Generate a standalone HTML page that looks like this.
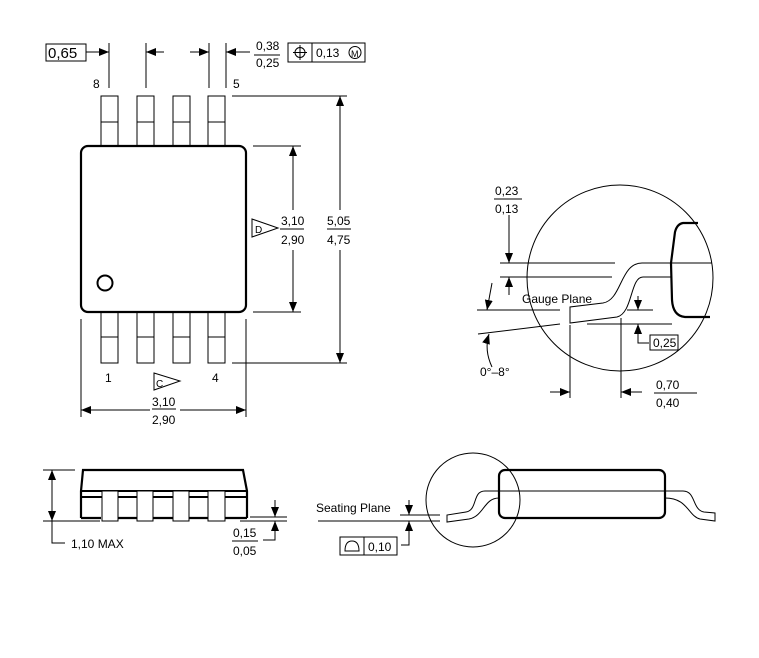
<!DOCTYPE html>
<html><head><style>body{margin:0;background:#fff}svg{display:block}text{font-family:"Liberation Sans",sans-serif;font-size:12px;fill:#000}</style></head>
<body>
<svg width="759" height="658" viewBox="0 0 759 658" xmlns="http://www.w3.org/2000/svg">
<defs>
<marker id="a" markerWidth="10" markerHeight="8" refX="10" refY="4" orient="auto" markerUnits="userSpaceOnUse"><path d="M0,0 L10,4 L0,8 Z" fill="#000"/></marker>
</defs>
<g fill="none" stroke="#000" stroke-width="1">
<rect x="81" y="146" width="165" height="166" rx="7" stroke-width="2.2"/>
<circle cx="105" cy="283" r="7.5" stroke-width="2"/>
<rect x="101" y="96" width="17" height="50"/><line x1="101" y1="122" x2="118" y2="122"/>
<rect x="137" y="96" width="17" height="50"/><line x1="137" y1="122" x2="154" y2="122"/>
<rect x="173" y="96" width="17" height="50"/><line x1="173" y1="122" x2="190" y2="122"/>
<rect x="208" y="96" width="17" height="50"/><line x1="208" y1="122" x2="225" y2="122"/>
<rect x="101" y="312" width="17" height="51"/><line x1="101" y1="337" x2="118" y2="337"/>
<rect x="137" y="312" width="17" height="51"/><line x1="137" y1="337" x2="154" y2="337"/>
<rect x="173" y="312" width="17" height="51"/><line x1="173" y1="337" x2="190" y2="337"/>
<rect x="208" y="312" width="17" height="51"/><line x1="208" y1="337" x2="225" y2="337"/>
<line x1="109" y1="43" x2="109" y2="88"/><line x1="146" y1="43" x2="146" y2="88"/>
<line x1="209" y1="43" x2="209" y2="88"/><line x1="226" y1="43" x2="226" y2="88"/>
<line x1="86" y1="52" x2="109" y2="52" marker-end="url(#a)"/>
<line x1="164" y1="52" x2="146" y2="52" marker-end="url(#a)"/>
<line x1="190" y1="52" x2="209" y2="52" marker-end="url(#a)"/>
<line x1="250" y1="52" x2="226" y2="52" marker-end="url(#a)"/>
<rect x="46" y="44" width="40" height="17"/>
<line x1="254" y1="55" x2="280" y2="55"/>
<rect x="288" y="43" width="77" height="19"/><line x1="312" y1="43" x2="312" y2="62"/>
<circle cx="300" cy="52.5" r="5"/><line x1="300" y1="45" x2="300" y2="60"/><line x1="293" y1="52.5" x2="307" y2="52.5"/>
<circle cx="355" cy="52.5" r="6"/>
<line x1="232" y1="96" x2="347" y2="96"/><line x1="232" y1="363" x2="347" y2="363"/>
<line x1="253" y1="146" x2="301" y2="146"/><line x1="253" y1="312" x2="301" y2="312"/>
<line x1="340" y1="210" x2="340" y2="96" marker-end="url(#a)"/>
<line x1="340" y1="250" x2="340" y2="363" marker-end="url(#a)"/>
<line x1="293" y1="210" x2="293" y2="146" marker-end="url(#a)"/>
<line x1="293" y1="250" x2="293" y2="312" marker-end="url(#a)"/>
<line x1="280" y1="229" x2="304" y2="229"/><line x1="327" y1="229" x2="351" y2="229"/>
<path d="M252,219 L278,228 L252,237 Z"/>
<line x1="81" y1="319" x2="81" y2="417"/><line x1="246" y1="319" x2="246" y2="417"/>
<line x1="150" y1="410" x2="81" y2="410" marker-end="url(#a)"/>
<line x1="180" y1="410" x2="246" y2="410" marker-end="url(#a)"/>
<line x1="152" y1="409" x2="176" y2="409"/>
<path d="M154,373 L180,381 L154,390 Z"/>
<circle cx="620" cy="278" r="93"/>
<line x1="500" y1="263" x2="615" y2="263"/><line x1="500" y1="277" x2="612" y2="277"/>
<line x1="642" y1="263" x2="712" y2="263"/><line x1="643" y1="277" x2="671" y2="277"/>
<path d="M642,263 C620,263 622,300 603,303 L570,307 L570,323 L617,317 C633,313 630,277 643,277"/>
<path d="M698,223 L683,223 Q677,224 675,232 L671,263 L672,300 Q673,316 685,317 L710,317" stroke-width="2.2"/>
<line x1="477" y1="310" x2="560" y2="310"/><line x1="627" y1="310" x2="653" y2="310"/>
<line x1="587" y1="324" x2="672" y2="324"/>
<line x1="478" y1="334" x2="560" y2="324"/>
<line x1="570" y1="325" x2="570" y2="398"/><line x1="621" y1="318" x2="621" y2="398"/>
<line x1="550" y1="392" x2="570" y2="392" marker-end="url(#a)"/>
<line x1="642" y1="392" x2="621" y2="392" marker-end="url(#a)"/>
<line x1="654" y1="393" x2="697" y2="393"/>
<line x1="509" y1="215" x2="509" y2="263" marker-end="url(#a)"/>
<line x1="509" y1="295" x2="509" y2="277" marker-end="url(#a)"/>
<line x1="494" y1="199" x2="522" y2="199"/>
<path d="M492,283 L487,310" marker-end="url(#a)"/>
<path d="M492,367 Q484,350 489,334" marker-end="url(#a)"/>
<line x1="638" y1="296" x2="638" y2="310" marker-end="url(#a)"/>
<path d="M649,343 L638,343 L638,324" marker-end="url(#a)"/>
<rect x="650" y="335" width="28" height="15"/>
<!-- side view left -->
<path d="M81,518 L81,491 L83,470 L243,470 L247,491 L247,518" stroke-width="2.2"/>
<path d="M81,518 L101,518 M118,518 L137,518 M153,518 L173,518 M189,518 L208,518 M225,518 L247,518" stroke-width="2.2"/>
<line x1="81" y1="491" x2="247" y2="491" stroke-width="2"/><line x1="81" y1="497" x2="247" y2="497" stroke-width="2"/>
<rect x="102" y="491" width="16" height="30" fill="#fff"/>
<rect x="137" y="491" width="16" height="30" fill="#fff"/>
<rect x="173" y="491" width="16" height="30" fill="#fff"/>
<rect x="208" y="491" width="17" height="30" fill="#fff"/>
<line x1="43" y1="470" x2="75" y2="470"/><line x1="43" y1="521" x2="100" y2="521"/>
<line x1="52" y1="495" x2="52" y2="470" marker-end="url(#a)"/>
<line x1="52" y1="495" x2="52" y2="521" marker-end="url(#a)"/>
<path d="M52,521 L52,543 L65,543"/>
<line x1="240" y1="521" x2="287" y2="521"/><line x1="250" y1="517" x2="287" y2="517"/>
<line x1="275" y1="500" x2="275" y2="517" marker-end="url(#a)"/>
<path d="M263,540 L275,540 L275,521" marker-end="url(#a)"/>
<line x1="232" y1="541" x2="258" y2="541"/>
<circle cx="473" cy="500" r="47"/>
<rect x="499" y="470" width="166" height="48" rx="6" stroke-width="2.2"/>
<line x1="485" y1="491" x2="683" y2="491"/>
<path d="M485,491 C472,491 478,510 466,512 L447,515 L447,522 L469,519 C484,516 484,498 499,498"/>
<path d="M683,491 C696,491 692,510 704,512 L715,513 L715,521 L700,519 C688,516 688,498 665,498"/>
<line x1="318" y1="521" x2="440" y2="521"/><line x1="400" y1="515" x2="440" y2="515"/>
<line x1="409" y1="500" x2="409" y2="515" marker-end="url(#a)"/>
<path d="M401,545 L409,545 L409,521" marker-end="url(#a)"/>
<rect x="340" y="537" width="57" height="18"/><line x1="364" y1="537" x2="364" y2="555"/>
<path d="M345,551 L359,551 Q359,541 352,541 Q345,541 345,551 Z"/>
</g>
<text x="48" y="58" style="font-size:15px">0,65</text>
<text x="256" y="50">0,38</text><text x="256" y="67">0,25</text>
<text x="316" y="57">0,13</text>
<text x="351" y="57" style="font-size:9px">M</text>
<text x="93" y="88">8</text><text x="233" y="88">5</text>
<text x="105" y="382">1</text><text x="212" y="382">4</text>
<text x="281" y="225">3,10</text><text x="281" y="244">2,90</text>
<text x="327" y="225">5,05</text><text x="327" y="244">4,75</text>
<text x="255" y="233" style="font-size:10px">D</text>
<text x="156" y="387" style="font-size:10px">C</text>
<text x="152" y="406">3,10</text><text x="152" y="424">2,90</text>
<text x="495" y="195">0,23</text><text x="495" y="213">0,13</text>
<text x="522" y="303">Gauge Plane</text>
<text x="480" y="376">0°–8°</text>
<text x="653" y="347">0,25</text>
<text x="656" y="389">0,70</text><text x="656" y="407">0,40</text>
<text x="71" y="548">1,10 MAX</text>
<text x="233" y="537">0,15</text><text x="233" y="555">0,05</text>
<text x="316" y="512">Seating Plane</text>
<text x="368" y="551">0,10</text>
</svg>
</body></html>
